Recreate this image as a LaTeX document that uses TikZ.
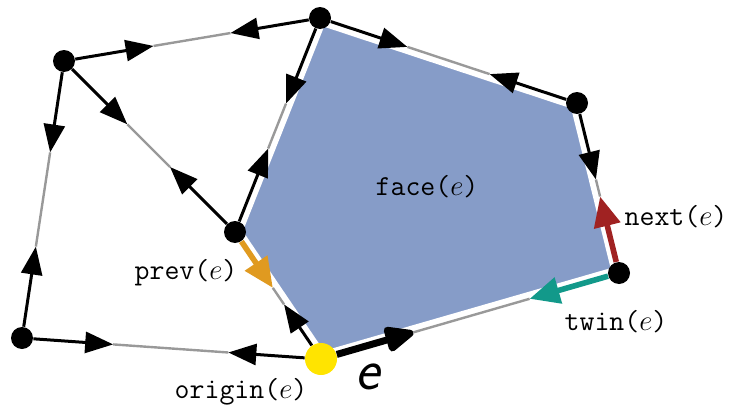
\documentclass[tikz,border=0pt]{standalone}
\usepackage{amsmath}
\usepackage{tikz}
\usetikzlibrary{arrows.meta, backgrounds}

\definecolor{facefill}{RGB}{134,156,200}
\definecolor{prevcol}{RGB}{224,154,32}
\definecolor{nextcol}{RGB}{160,34,34}
\definecolor{twincol}{RGB}{18,153,138}
\definecolor{origincol}{RGB}{255,228,0}

\begin{document}
\begin{tikzpicture}[x=0.5pt, y=-0.5pt,
    vertex/.style={circle, fill=black, inner sep=0pt, minimum size=11pt},
    half/.style={line width=1.5pt, -{Triangle[length=14pt, width=10.5pt]}},
    mid/.style={line width=1.2pt, black!40},
    special/.style={line width=2.8pt, -{Triangle[length=15pt, width=13pt]}},
    lbl/.style={font=\fontsize{14.5}{17}\selectfont\ttfamily}]
    \useasboundingbox (0,0) rectangle (729,407);

    % Place the vertices
    \node[vertex] (A) at (64,61) {};
    \node[vertex] (B) at (320,18) {};
    \node[vertex] (C) at (577,103) {};
    \node[vertex] (D) at (619,273) {};
    \node[vertex] (F) at (235,232) {};
    \node[vertex] (G) at (22,338) {};
    \node[circle, fill=origincol, inner sep=0pt, minimum size=16pt] (E) at (321,359) {};

    % Shade the face
    \begin{scope}[on background layer]
        \filldraw[fill=facefill, draw=white, line width=7pt, line join=miter]
            (B.center) -- (C.center) -- (D.center) -- (E.center) -- (F.center) -- cycle;
    \end{scope}

    % Draw the plain half-edges
    \foreach \u/\v/\p/\q in {A/B/.35/.65, A/G/.33/.67, A/F/.37/.62, B/F/.40/.61,
                             B/C/.34/.66, G/E/.305/.69} {
        \path (\u.center) -- (\v.center) coordinate[pos=\p] (\u\v) coordinate[pos=\q] (\v\u);
        \draw[half] (\u) -- (\u\v);
        \draw[half] (\v) -- (\v\u);
        \draw[mid] (\u\v) -- (\v\u);
    }

    % The edge e and its twin
    \path (E.center) -- (D.center) coordinate[pos=.31] (ED) coordinate[pos=.70] (DE);
    \draw[line width=3.5pt, -{Triangle[length=17pt, width=13.5pt, round]}] (E) -- (ED);
    \draw[special, twincol] (D) -- (DE);
    \draw[mid] (ED) -- (DE);

    % next(e)
    \path (C.center) -- (D.center) coordinate[pos=.45] (CD) coordinate[pos=.55] (DC);
    \draw[half] (C) -- (CD);
    \draw[special, nextcol] (D) -- (DC);
    \draw[mid] (CD) -- (DC);

    % prev(e)
    \path (E.center) -- (F.center) coordinate[pos=.43] (EF) coordinate[pos=.56] (FE);
    \draw[half] (E) -- (EF);
    \draw[special, prevcol] (F) -- (FE);
    \draw[mid] (EF) -- (FE);

    % Labels
    \node[lbl] (facelabel) at (427,187) {face($e$)};
    \node[lbl] (prevlabel) at (186,273) {prev($e$)};
    \node[lbl] (nextlabel) at (676,217) {next($e$)};
    \node[lbl] (twinlabel) at (616,322) {twin($e$)};
    \node[lbl] (originlabel) at (241,392) {origin($e$)};
    \node[font=\fontsize{29}{30}\selectfont\sffamily\slshape] (elabel) at (368,377) {e};
\end{tikzpicture}
\end{document}
